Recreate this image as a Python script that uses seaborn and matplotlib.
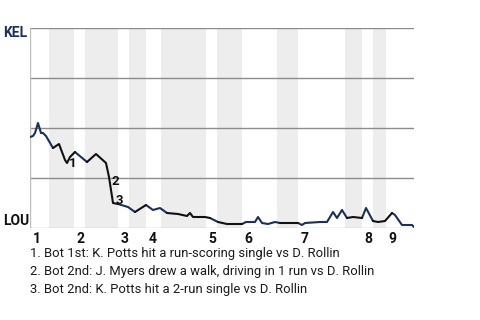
import matplotlib
matplotlib.use("Agg")
import matplotlib.pyplot as plt
import seaborn as sns
import pandas as pd
import numpy as np

# ---- data ----
# game progress (plate-appearance scale) and KEL win probability (%)
progress = [0, 3, 5, 8, 11, 13, 16, 23, 29, 35, 37, 40, 45, 57, 66, 76, 79, 83, 88, 98,
            105, 116, 123, 130, 137, 148, 157, 160, 163, 175, 180, 188, 197, 212, 216, 225,
            228, 232, 238, 245, 250, 268, 272, 275, 290, 297, 303, 307, 312, 317, 323, 332,
            336, 343, 348, 355, 362, 365, 372, 382, 384]
kel_wp = [45.5, 46, 47.5, 52.5, 47.5, 47.5, 46, 40, 42, 34, 32.5, 35.5, 38, 33, 37, 32.5,
          25.5, 12.5, 12, 10.5, 8, 11.5, 9, 10, 7.5, 7, 6, 7.5, 5.5, 5.5, 5, 3, 2, 2, 3, 3,
          5.5, 2.5, 2, 3, 2.5, 2.5, 1.5, 2.5, 3, 3, 8, 5, 9, 5, 5.5, 5, 10, 3.5, 3, 3.5, 7.5,
          6.5, 1.5, 1.5, 0.5]
# half-inning start positions (top 1, bot 1, top 2, ...) and end of game
half_starts = [0, 19, 44, 55, 88, 99, 116, 131, 176, 187, 212, 247, 268, 315, 332, 343, 356]
game_end = 384
inning_labels = ["1", "2", "3", "4", "5", "6", "7", "8", "9"]
# key events: index of point, label
event_points = [10, 16, 17]
event_labels = ["1", "2", "3"]
event_texts = [
    "1. Bot 1st: K. Potts hit a run-scoring single vs D. Rollin",
    "2. Bot 2nd: J. Myers drew a walk, driving in 1 run vs D. Rollin",
    "3. Bot 2nd: K. Potts hit a 2-run single vs D. Rollin",
]
team_top = "KEL"
team_bottom = "LOU"

# ---- style ----
sns.set_theme(style="white")
plt.rcParams["font.family"] = ["Roboto", "DejaVu Sans"]
NAVY = "#1b2f5e"
BLACK = "#111111"

fig = plt.figure(figsize=(4.8, 3.2), dpi=100)
ax = fig.add_axes([30 / 480, 92 / 320, 384 / 480, 200 / 320])

# bottom-half shading
bounds = half_starts + [game_end]
for i in range(len(half_starts)):
    if i % 2 == 1:
        ax.axvspan(bounds[i], bounds[i + 1], color="#ededed", lw=0, zorder=0)

# gridlines
for g in [25, 50, 75, 100]:
    ax.axhline(g, color="#8c8c8c", lw=1, zorder=1)
ax.axhline(0, color="#bdbdbd", lw=1, zorder=1)
ax.axvline(0, color="#bdbdbd", lw=1, zorder=1)

# segment the line by half innings
rows = []
half_of = []
for x in progress:
    h = max(i for i, s in enumerate(half_starts) if s <= x)
    half_of.append(h)
n = len(progress)
for h in sorted(set(half_of)):
    idx = [i for i in range(n) if half_of[i] == h]
    if idx[-1] + 1 < n:
        idx.append(idx[-1] + 1)
    for k in idx:
        rows.append({"progress": progress[k], "wp": kel_wp[k], "seg": h,
                     "bat": "top" if h % 2 == 0 else "bot"})
df = pd.DataFrame(rows)
sns.lineplot(data=df, x="progress", y="wp", units="seg", hue="bat",
             palette={"top": NAVY, "bot": BLACK}, estimator=None, sort=False,
             lw=1.5, legend=False, ax=ax, zorder=3)

# event markers
offsets = [(1.2, -0.5), (2, -3), (2, 2)]
for p, lab, (dx, dy) in zip(event_points, event_labels, offsets):
    ax.annotate(lab, (progress[p], kel_wp[p]), xytext=(dx, dy), textcoords="offset points",
                fontsize=9.5, fontweight="bold", color=BLACK, ha="left", va="center", zorder=4)

ax.set_xlim(0, game_end)
ax.set_ylim(0, 100)
ax.set_xticks([])
ax.set_yticks([])
ax.set_xlabel("")
ax.set_ylabel("")
for s in ax.spines.values():
    s.set_visible(False)

# inning labels
inning_starts = half_starts[0::2]
for x, lab in zip(inning_starts, inning_labels):
    ax.annotate(lab, (x, 0), xytext=(2, -8), textcoords="offset points",
                fontsize=10, fontweight="bold", color=BLACK, ha="left", va="center")

# team labels
fig.text(3 / 480, 1 - 33 / 320, team_top, fontsize=10, fontweight="bold", color=NAVY,
         ha="left", va="center")
fig.text(3 / 480, 1 - 221 / 320, team_bottom, fontsize=10, fontweight="bold", color=BLACK,
         ha="left", va="center")

# event descriptions
for i, t in enumerate(event_texts):
    fig.text(30 / 480, 1 - (254 + i * 17.5) / 320, t, fontsize=9.4, color="#1a1a1a",
             ha="left", va="center")

fig.savefig("out.png", dpi=100)
